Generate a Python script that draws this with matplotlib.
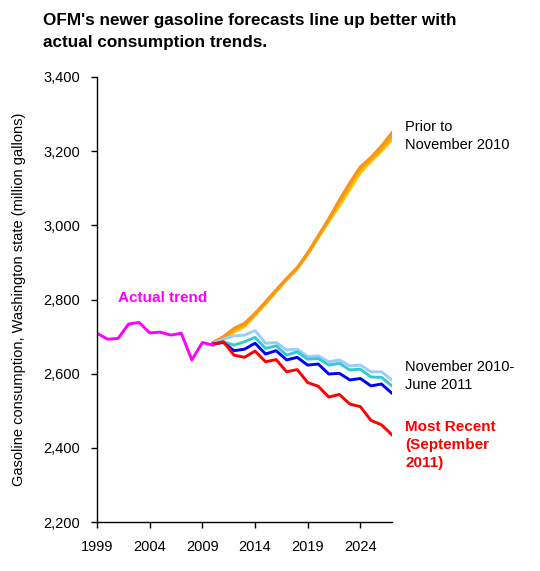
import matplotlib
matplotlib.use("Agg")
import matplotlib.pyplot as plt

plt.rcParams['font.family'] = ['Liberation Sans', 'DejaVu Sans']

actual_years = list(range(1999, 2011))
actual = [2709, 2693, 2695, 2734, 2738, 2710, 2712, 2704, 2709, 2637, 2684, 2677]

fc_years = list(range(2010, 2028))
recent = [2679, 2686, 2650, 2644, 2661, 2632, 2638, 2605, 2611, 2576, 2566, 2537,
          2544, 2518, 2511, 2474, 2462, 2435]
blue = [2680, 2684, 2662, 2666, 2682, 2653, 2662, 2637, 2644, 2623, 2626, 2599,
        2601, 2583, 2587, 2567, 2572, 2547]
teal = [2680, 2686, 2677, 2686, 2698, 2668, 2675, 2650, 2659, 2639, 2641, 2623,
        2628, 2610, 2612, 2591, 2590, 2567]
lightblue = [2682, 2693, 2702, 2704, 2716, 2682, 2684, 2664, 2666, 2646, 2648, 2632,
             2637, 2621, 2623, 2605, 2605, 2583]
prior_dark = [2684, 2700, 2722, 2736, 2763, 2794, 2826, 2857, 2886, 2926, 2972, 3018,
              3068, 3115, 3158, 3183, 3214, 3250]
prior_mid = [2684, 2698, 2717, 2731, 2760, 2791, 2823, 2855, 2884, 2924, 2969, 3015,
             3062, 3108, 3152, 3178, 3206, 3240]
prior_gold = [2684, 2695, 2712, 2727, 2757, 2788, 2821, 2853, 2882, 2921, 2966, 3010,
              3052, 3097, 3142, 3172, 3200, 3231]

xticks = [1999, 2004, 2009, 2014, 2019, 2024]
yticks = [2200, 2400, 2600, 2800, 3000, 3200, 3400]

fig = plt.figure(figsize=(5.4, 5.71), dpi=100)
W, H = 540, 571
ax = fig.add_axes([97 / W, (H - 522) / H, (392 - 97) / W, (522 - 77) / H])

lw = 2.1
ax.plot(fc_years, prior_gold, color='#FFC800', lw=lw)
ax.plot(fc_years, prior_mid, color='#FFAA00', lw=lw)
ax.plot(fc_years, prior_dark, color='#F7931E', lw=lw)
ax.plot(fc_years, lightblue, color='#99CCFF', lw=lw)
ax.plot(fc_years, teal, color='#33CCCC', lw=lw)
ax.plot(fc_years, blue, color='#0000FF', lw=lw)
ax.plot(fc_years, recent, color='#FF0000', lw=lw)
ax.plot(actual_years, actual, color='#FF00FF', lw=lw)

ax.set_xlim(1999, 2027)
ax.set_ylim(2200, 3400)
ax.set_xticks(xticks)
ax.set_xticklabels([str(v) for v in xticks], fontsize=10.5)
ax.set_yticks(yticks)
ax.set_yticklabels([f"{v:,}" for v in yticks], fontsize=10.5)
ax.tick_params(direction='out', length=4, width=1, colors='black')
ax.tick_params(axis='x', pad=9)
ax.tick_params(axis='y', pad=8)
for s in ['top', 'right']:
    ax.spines[s].set_visible(False)
for s in ['left', 'bottom']:
    ax.spines[s].set_linewidth(1)

ax.set_ylabel('Gasoline consumption, Washington state (million gallons)', fontsize=10.5)
ax.yaxis.set_label_coords(-0.24, 0.5)

fig.text(43 / W, 1 - 20 / H, "OFM's newer gasoline forecasts line up better with",
         fontsize=12.3, fontweight='bold', va='center', ha='left')
fig.text(43 / W, 1 - 43 / H, "actual consumption trends.",
         fontsize=12.3, fontweight='bold', va='center', ha='left')

fig.text(118 / W, 1 - 298 / H, "Actual trend", color='#FF00FF', fontsize=11,
         fontweight='bold', va='center', ha='left')
fig.text(405 / W, 1 - 136 / H, "Prior to\nNovember 2010", fontsize=10.5,
         va='center', ha='left', linespacing=1.45)
fig.text(405 / W, 1 - 376 / H, "November 2010-\nJune 2011", fontsize=10.5,
         va='center', ha='left', linespacing=1.45)
fig.text(405 / W, 1 - 445 / H, "Most Recent\n(September\n2011)", fontsize=11,
         color='#FF0000', fontweight='bold', va='center', ha='left', linespacing=1.35)

fig.savefig('out.png', dpi=100)
